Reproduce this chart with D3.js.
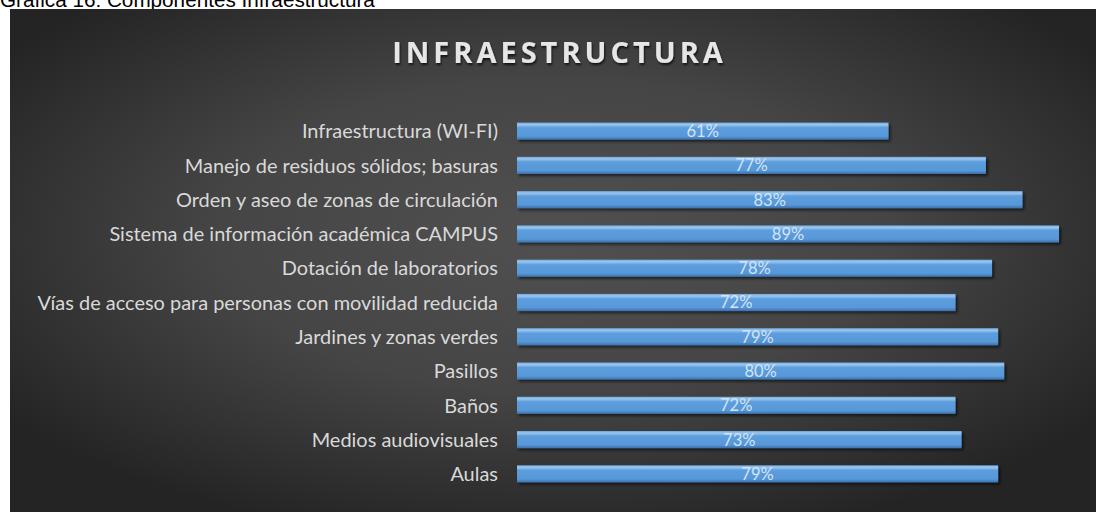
<!DOCTYPE html>
<html><head><meta charset="utf-8">
<script src="https://cdn.jsdelivr.net/npm/d3@7"></script>
<style>html,body{margin:0;padding:0;background:#fff;}svg{display:block;}</style>
</head><body>
<svg id="c" width="1096" height="512"></svg>
<script>
const caption = "Gráfica 16: Componentes Infraestructura";
const title = "INFRAESTRUCTURA";
const categories = [
  "Infraestructura (WI-FI)",
  "Manejo de residuos sólidos; basuras",
  "Orden y aseo de zonas de circulación",
  "Sistema de información académica CAMPUS",
  "Dotación de laboratorios",
  "Vías de acceso para personas con movilidad reducida",
  "Jardines y zonas verdes",
  "Pasillos",
  "Baños",
  "Medios audiovisuales",
  "Aulas"
];
const values = [0.61, 0.77, 0.83, 0.89, 0.78, 0.72, 0.79, 0.80, 0.72, 0.73, 0.79];

const svg = d3.select("#c");
const defs = svg.append("defs");

const bg = defs.append("radialGradient").attr("id","bg")
  .attr("cx","50%").attr("cy","45%").attr("r","62%")
  .attr("gradientUnits","objectBoundingBox");
bg.append("stop").attr("offset","0%").attr("stop-color","#505050");
bg.append("stop").attr("offset","50%").attr("stop-color","#454545");
bg.append("stop").attr("offset","100%").attr("stop-color","#242424");

const bar = defs.append("linearGradient").attr("id","bar").attr("x1",0).attr("x2",0).attr("y1",0).attr("y2",1);
[["0%","#6ea8df"],["12%","#9cc6ee"],["30%","#5c9ddd"],["80%","#5898d8"],["100%","#3a70aa"]]
  .forEach(([o,c])=>bar.append("stop").attr("offset",o).attr("stop-color",c));

const sh = defs.append("filter").attr("id","shadow").attr("x","-5%").attr("y","-50%").attr("width","110%").attr("height","200%");
sh.append("feGaussianBlur").attr("in","SourceAlpha").attr("stdDeviation",1.5).attr("result","b");
sh.append("feOffset").attr("in","b").attr("dx",1.5).attr("dy",2).attr("result","o");
sh.append("feComponentTransfer").attr("in","o").attr("result","o2")
  .append("feFuncA").attr("type","linear").attr("slope",0.6);
const m = sh.append("feMerge");
m.append("feMergeNode").attr("in","o2");
m.append("feMergeNode").attr("in","SourceGraphic");

const tsh = defs.append("filter").attr("id","tshadow").attr("x","-5%").attr("y","-20%").attr("width","110%").attr("height","150%");
tsh.append("feGaussianBlur").attr("in","SourceAlpha").attr("stdDeviation",1.2).attr("result","b");
tsh.append("feOffset").attr("in","b").attr("dx",1).attr("dy",2).attr("result","o");
tsh.append("feComponentTransfer").attr("in","o").attr("result","o2")
  .append("feFuncA").attr("type","linear").attr("slope",0.7);
const m2 = tsh.append("feMerge");
m2.append("feMergeNode").attr("in","o2");
m2.append("feMergeNode").attr("in","SourceGraphic");

// caption (cut off at top, as in the reference)
const cap = svg.append("text").attr("x",0).attr("y",7)
  .attr("font-family","'Liberation Sans', Arial, sans-serif").attr("font-size",20)
  .attr("fill","#000").text(caption);
const cw = cap.node().getComputedTextLength();
cap.attr("font-size", 20*375/cw);

// chart area
svg.append("rect").attr("x",10).attr("y",9).attr("width",1086).attr("height",503).attr("fill","url(#bg)");

const ls = 4;
svg.append("text").attr("x",557.5 + ls/2).attr("y",63).attr("text-anchor","middle")
  .attr("font-family","'Open Sans', sans-serif").attr("font-weight",700).attr("font-size",29)
  .attr("letter-spacing",ls).attr("fill","#e6e6e6").attr("filter","url(#tshadow)").text(title);

const x = d3.scaleLinear().domain([0,1]).range([517,1126]);
const y = d3.scaleBand().domain(categories).range([114,491]).paddingInner(0.5).paddingOuter(0.25);

const g = svg.append("g");
g.selectAll("rect.bar").data(categories).join("rect").attr("class","bar")
  .attr("x", x(0)).attr("y", d=>y(d)).attr("height", y.bandwidth())
  .attr("width", (d,i)=>x(values[i])-x(0))
  .attr("fill","url(#bar)").attr("filter","url(#shadow)");

g.selectAll("text.val").data(categories).join("text").attr("class","val")
  .attr("x",(d,i)=>(x(0)+x(values[i]))/2).attr("y",d=>y(d)+y.bandwidth()/2)
  .attr("dy","0.36em").attr("text-anchor","middle")
  .attr("font-family","Lato, 'Open Sans', sans-serif").attr("font-size",16.5)
  .attr("fill","#d3e4f6").text((d,i)=>Math.round(values[i]*100)+"%");

const yAxis = d3.axisLeft(y).tickSize(0).tickPadding(0);
const ax = svg.append("g").attr("transform","translate(498,0)").call(yAxis);
ax.select(".domain").remove();
ax.selectAll("text").attr("font-family","Lato, 'Open Sans', sans-serif").attr("font-size",16)
  .attr("fill","#d9d9d9").attr("dy","0.36em");
// fit longest label width to reference (~461px)
let maxW = 0;
ax.selectAll("text").each(function(){ maxW = Math.max(maxW, this.getComputedTextLength()); });
ax.selectAll("text").attr("font-size", 16*461/maxW);
</script>
</body></html>
